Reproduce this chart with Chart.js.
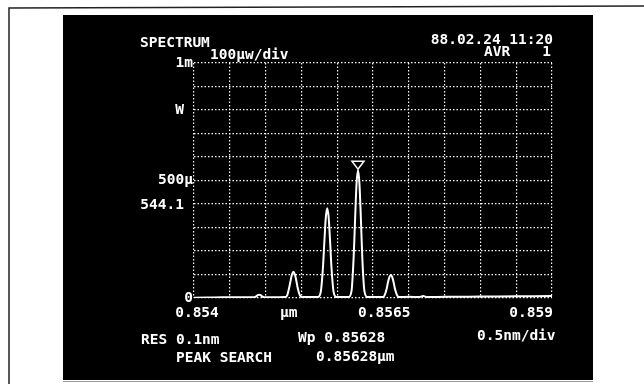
<!DOCTYPE html>
<html>
<head>
<meta charset="utf-8">
<script src="https://cdn.jsdelivr.net/npm/chart.js@4.4.1/dist/chart.umd.min.js"></script>
<style>
  html, body { margin: 0; padding: 0; background: #fff; }
  canvas { display: block; }
</style>
</head>
<body>
<canvas id="spectrum" width="644" height="384"></canvas>
<script>
// trace: wavelength (um) / power (uW)
const wavelengths = [
    0.8540, 0.8542, 0.8544, 0.8546, 0.8548,
    0.85484, 0.85487, 0.85489, 0.85491, 0.85493, 0.85495, 0.85498,
    0.8551, 0.85527, 0.8553, 0.85533, 0.85535, 0.85537, 0.85539, 0.85541, 0.85543, 0.85545, 0.85548, 0.85551,
    0.8556, 0.85573, 0.85577, 0.8558, 0.85582, 0.85584, 0.85586, 0.85588, 0.8559, 0.85592, 0.85595, 0.85599,
    0.8561, 0.85616, 0.8562, 0.85623, 0.85625, 0.85627, 0.85629, 0.85631, 0.85633, 0.85635, 0.85638, 0.85642,
    0.8565, 0.85663, 0.85666, 0.85669, 0.85671, 0.85673, 0.85675, 0.85677, 0.85679, 0.85681, 0.85684, 0.85687,
    0.8570, 0.85714, 0.8572, 0.85726, 0.8575, 0.8580, 0.8585, 0.8590
];
const powers = [
    1, 2, 3, 3, 3,
    3, 7, 12, 14, 12, 7, 3,
    3, 4, 10, 45, 75, 102, 112, 100, 72, 40, 10, 4,
    4, 4, 25, 125, 235, 340, 382, 345, 245, 130, 25, 4,
    4, 4, 30, 175, 335, 485, 544, 490, 345, 175, 30, 4,
    4, 4, 10, 38, 68, 90, 98, 88, 64, 35, 10, 4,
    5, 4, 8, 4, 5, 6, 7, 8
];

const xMin = 0.854, xMax = 0.859, xStep = 0.0005;
const yMin = 0, yMax = 1000, yStep = 100;
const yTickLabels = { 1000: '1m', 500: '500\u03bc', 0: '0' };
const xTickValues = [0.854, 0.8565, 0.859];
const xTickNames = ['0.854', '0.8565', '0.859'];
const peakWavelength = 0.85629;
const peakPower = 544.1;

const FONT = 'bold 14.5px "DejaVu Sans Mono", monospace';

function txt(ctx, s, x, y, align) {
    ctx.textAlign = align || 'left';
    ctx.fillText(s, x, y);
}

const screenPlugin = {
    id: 'screen',
    beforeDraw(chart) {
        const ctx = chart.ctx;
        ctx.save();
        ctx.fillStyle = '#fff';
        ctx.fillRect(0, 0, chart.width, chart.height);
        // photo frame
        ctx.strokeStyle = '#222';
        ctx.lineWidth = 1.5;
        ctx.beginPath();
        ctx.moveTo(9, 384);
        ctx.lineTo(9, 8);
        ctx.lineTo(644, 6);
        ctx.stroke();
        ctx.strokeStyle = '#999';
        ctx.lineWidth = 1;
        ctx.beginPath();
        ctx.moveTo(63, 381.5);
        ctx.lineTo(593, 381.5);
        ctx.stroke();
        // screen
        ctx.fillStyle = '#000';
        ctx.fillRect(63, 15, 530, 365);
        ctx.restore();
    },
    afterDatasetsDraw(chart) {
        const ctx = chart.ctx;
        const x = chart.scales.x, y = chart.scales.y;
        ctx.save();
        ctx.fillStyle = '#fff';
        ctx.font = FONT;
        ctx.textBaseline = 'middle';

        txt(ctx, 'SPECTRUM', 140, 43);
        txt(ctx, '100\u03bcw/div', 210, 55.5);
        txt(ctx, '88.02.24 11:20', 553, 40.5, 'right');
        txt(ctx, 'AVR', 484, 52.5);
        txt(ctx, '1', 551, 52.5, 'right');

        txt(ctx, 'W', 184, y.getPixelForValue(800), 'right');
        txt(ctx, peakPower.toFixed(1), 184, y.getPixelForValue(400) + 1, 'right');

        // wavelength labels under the axis
        const ly = chart.chartArea.bottom + 15;
        txt(ctx, xTickNames[0], x.getPixelForValue(xTickValues[0]) + 3, ly, 'center');
        txt(ctx, xTickNames[1], x.getPixelForValue(xTickValues[1]) - 15, ly, 'left');
        txt(ctx, xTickNames[2], x.getPixelForValue(xTickValues[2]) + 1, ly, 'right');
        txt(ctx, '\u03bcm', 280, ly);

        txt(ctx, 'RES 0.1nm', 141, 340);
        txt(ctx, 'Wp 0.85628', 298, 338);
        txt(ctx, '0.5nm/div', 477, 336);
        txt(ctx, 'PEAK SEARCH', 176, 358);
        txt(ctx, '0.85628\u03bcm', 316, 357);

        // peak marker
        const px = x.getPixelForValue(peakWavelength);
        const py = y.getPixelForValue(peakPower) - 1;
        ctx.strokeStyle = '#fff';
        ctx.lineWidth = 1.5;
        ctx.beginPath();
        ctx.moveTo(px, py);
        ctx.lineTo(px - 6, py - 8);
        ctx.lineTo(px + 6, py - 8);
        ctx.closePath();
        ctx.stroke();
        ctx.restore();
    }
};

const points = wavelengths.map((w, i) => ({ x: w, y: powers[i] }));

new Chart(document.getElementById('spectrum'), {
    type: 'line',
    data: {
        datasets: [{
            data: points,
            borderColor: '#fff',
            borderWidth: 2,
            pointRadius: 0,
            cubicInterpolationMode: 'monotone',
            fill: false
        }]
    },
    options: {
        responsive: false,
        animation: false,
        events: [],
        layout: { padding: { left: 134, right: 92, top: 63, bottom: 66 } },
        plugins: { legend: { display: false }, tooltip: { enabled: false } },
        scales: {
            x: {
                type: 'linear',
                min: xMin,
                max: xMax,
                ticks: { display: false, stepSize: xStep },
                grid: { color: '#fff', lineWidth: 1.2, drawTicks: false },
                border: { display: false, dash: [1.5, 2] },
                afterFit(scale) { scale.height = 20; }
            },
            y: {
                min: yMin,
                max: yMax,
                ticks: {
                    stepSize: yStep,
                    color: '#fff',
                    font: { family: '"DejaVu Sans Mono", monospace', size: 14.5, weight: 'bold' },
                    padding: 1,
                    callback: v => yTickLabels[v] !== undefined ? yTickLabels[v] : ''
                },
                grid: { color: '#fff', lineWidth: 1.2, drawTicks: false },
                border: { display: false, dash: [1.5, 2] },
                afterFit(scale) { scale.width = 60; }
            }
        }
    },
    plugins: [screenPlugin]
});
</script>
</body>
</html>
